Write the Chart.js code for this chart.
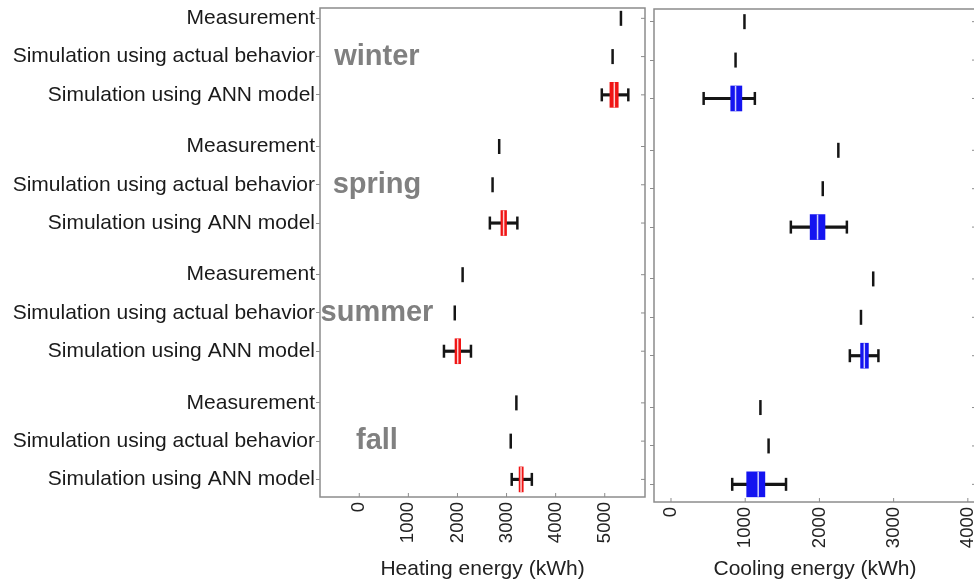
<!DOCTYPE html>
<html>
<head>
<meta charset="utf-8">
<script src="https://cdn.jsdelivr.net/npm/chart.js@4.4.1/dist/chart.umd.min.js"></script>
<style>
  body { margin: 0; background: #fff; width: 974px; height: 582px; overflow: hidden; position: relative; }
  .wrap { position: absolute; top: 0; height: 582px; }
  #heatBox { left: 0; width: 650px; }
  #coolBox { left: 650px; width: 326px; }
</style>
</head>
<body>
<div class="wrap" id="heatBox"><canvas id="heatChart"></canvas></div>
<div class="wrap" id="coolBox"><canvas id="coolChart"></canvas></div>
<script>
// seasons and the three rows of each season
const seasons = ['winter', 'spring', 'summer', 'fall'];
const rowNames = ['Measurement', 'Simulation using actual behavior', 'Simulation using ANN model'];

// Heating energy (kWh), one value per season
const heatMeasured = [5330, 2850, 2105, 3200];
const heatActual   = [5160, 2715, 1945, 3085];
const heatAnnMin    = [4940, 2660, 1725, 3105];
const heatAnnQ1     = [5105, 2885, 1950, 3255];
const heatAnnMedian = [5195, 2940, 2005, 3295];
const heatAnnQ3     = [5275, 3000, 2065, 3340];
const heatAnnMax    = [5480, 3220, 2275, 3515];

// Cooling energy (kWh)
const coolMeasured = [990, 2255, 2725, 1205];
const coolActual   = [870, 2045, 2560, 1315];
const coolAnnMin    = [440, 1615, 2410, 825];
const coolAnnQ1     = [805, 1875, 2555, 1020];
const coolAnnMedian = [870, 1975, 2605, 1175];
const coolAnnQ3     = [955, 2075, 2660, 1265];
const coolAnnMax    = [1130, 2370, 2795, 1550];

const heatTicks = [0, 1000, 2000, 3000, 4000, 5000];
const coolTicks = [0, 1000, 2000, 3000, 4000];

const FONT = "'Liberation Sans', Arial, sans-serif";
const GROUP_STEP = 3.35;
const rowPos = (g, r) => g * GROUP_STEP + r;
const yPositions = [];
const yLabels = [];
seasons.forEach((s, g) => rowNames.forEach((n, r) => { yPositions.push(rowPos(g, r)); yLabels.push(n); }));

// box border + inside ticks on bottom and right side
const framePlugin = {
  id: 'frame',
  afterDraw(chart) {
    const { ctx, chartArea: a, scales } = chart;
    ctx.save();
    ctx.strokeStyle = '#8c8c8c';
    ctx.lineWidth = 1.5;
    ctx.strokeRect(a.left, a.top, a.right - a.left, a.bottom - a.top);
    ctx.lineWidth = 1;
    ctx.beginPath();
    scales.x.ticks.forEach(t => {
      const px = scales.x.getPixelForValue(t.value);
      ctx.moveTo(px, a.bottom);
      ctx.lineTo(px, a.bottom - 4);
    });
    scales.y.ticks.forEach(t => {
      const py = scales.y.getPixelForValue(t.value);
      ctx.moveTo(a.right, py);
      ctx.lineTo(a.right - 4, py);
    });
    ctx.stroke();
    ctx.restore();
  }
};

const seasonPlugin = {
  id: 'seasons',
  afterDatasetsDraw(chart, args, opts) {
    if (!opts.show) return;
    const { ctx, scales } = chart;
    ctx.save();
    ctx.fillStyle = '#808080';
    ctx.font = 'bold 29px ' + FONT;
    ctx.textAlign = 'center';
    ctx.textBaseline = 'middle';
    seasons.forEach((s, g) => {
      ctx.fillText(s, scales.x.getPixelForValue(opts.x), scales.y.getPixelForValue(rowPos(g, 1)));
    });
    ctx.restore();
  }
};

function makeChart(id, c) {
  const pts = (vals, r) => vals.map((v, g) => ({ x: v, y: rowPos(g, r) }));
  const spans = (lo, hi) => lo.map((v, g) => ({ x: [v, hi[g]], y: rowPos(g, 2) }));
  return new Chart(document.getElementById(id), {
    type: 'bar',
    data: {
      datasets: [
        { type: 'bar', indexAxis: 'y', grouped: false, order: 5,
          data: spans(c.min, c.max), backgroundColor: '#151515', barThickness: 2.5 },
        { type: 'scatter', order: 4, data: pts(c.min, 2).concat(pts(c.max, 2)),
          pointStyle: 'line', rotation: 90, radius: 6.5, borderWidth: 2.5, borderColor: '#151515' },
        { type: 'bar', indexAxis: 'y', grouped: false, order: 3,
          data: spans(c.q1, c.q3), backgroundColor: c.color, barThickness: 25 },
        { type: 'scatter', order: 2, data: pts(c.median, 2),
          pointStyle: 'line', rotation: 90, radius: 12.5, borderWidth: 1.5, borderColor: 'rgba(255,255,255,0.8)' },
        { type: 'scatter', order: 1, data: pts(c.measured, 0).concat(pts(c.actual, 1)),
          pointStyle: 'line', rotation: 90, radius: 7.5, borderWidth: 2.5, borderColor: '#151515' }
      ]
    },
    options: {
      responsive: true,
      maintainAspectRatio: false,
      animation: false,
      events: [],
      layout: { padding: c.padding, autoPadding: false },
      plugins: {
        legend: { display: false },
        tooltip: { enabled: false },
        seasons: { show: c.seasonLabels, x: 360 }
      },
      scales: {
        x: {
          type: 'linear', min: c.xMin, max: c.xMax, offset: false,
          afterBuildTicks: s => { s.ticks = c.ticks.map(v => ({ value: v })); },
          grid: { display: false, offset: false },
          border: { display: false },
          ticks: { autoSkip: false, minRotation: 90, maxRotation: 90, padding: -3,
                   callback: v => String(v),
                   color: '#222', font: { family: FONT, size: 18.5 } },
          title: { display: true, text: c.title, color: '#222',
                   font: { family: FONT, size: 21 }, padding: { top: 4, bottom: 0 } },
          afterFit: s => { s.height = c.xHeight; s.paddingLeft = 0; s.paddingRight = 0; }
        },
        y: {
          type: 'linear', reverse: true, min: c.yMin, max: 12.51, offset: false,
          afterBuildTicks: s => { s.ticks = yPositions.map(v => ({ value: v })); },
          grid: { drawOnChartArea: false, offset: false, tickLength: 4, color: '#8c8c8c' },
          border: { display: false },
          ticks: { display: c.rowLabels, autoSkip: false, padding: 1,
                   callback: (v, i) => yLabels[i],
                   color: '#1a1a1a', font: { family: FONT, size: 21 } },
          afterFit: s => { s.width = c.yWidth; s.paddingTop = 0; s.paddingBottom = 0; }
        }
      }
    },
    plugins: [framePlugin, seasonPlugin]
  });
}

makeChart('heatChart', {
  measured: heatMeasured, actual: heatActual,
  min: heatAnnMin, q1: heatAnnQ1, median: heatAnnMedian, q3: heatAnnQ3, max: heatAnnMax,
  color: '#f01414', ticks: heatTicks, xMin: -800, xMax: 5820, yMin: -0.27,
  title: 'Heating energy (kWh)', padding: { top: 8, right: 5, left: 0, bottom: 0 },
  xHeight: 85, yWidth: 320, rowLabels: true, seasonLabels: true
});

makeChart('coolChart', {
  measured: coolMeasured, actual: coolActual,
  min: coolAnnMin, q1: coolAnnQ1, median: coolAnnMedian, q3: coolAnnQ3, max: coolAnnMax,
  color: '#1414f0', ticks: coolTicks, xMin: -229, xMax: 4110, yMin: -0.33,
  title: 'Cooling energy (kWh)', padding: { top: 9, right: 0, left: 0, bottom: 0 },
  xHeight: 80, yWidth: 4, rowLabels: false, seasonLabels: false
});
</script>
</body>
</html>
